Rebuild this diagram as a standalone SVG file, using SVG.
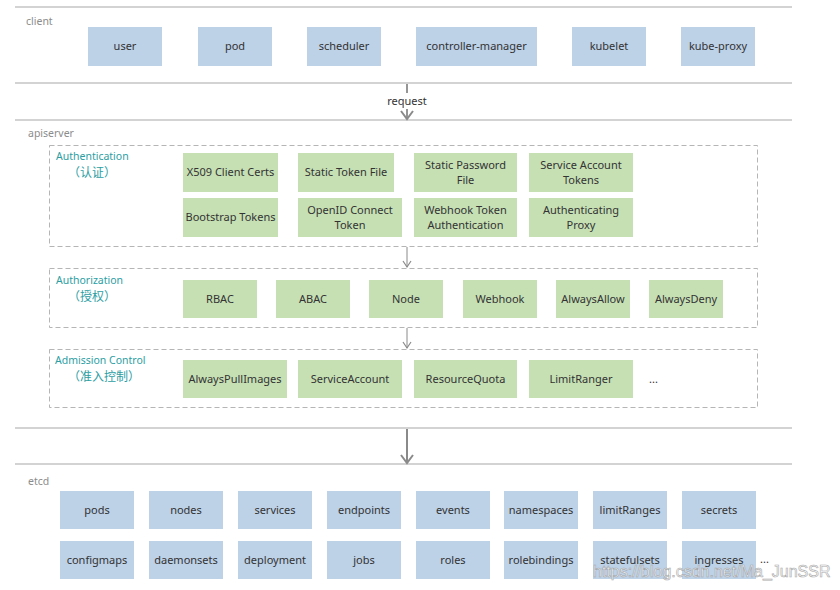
<svg xmlns="http://www.w3.org/2000/svg" width="840" height="590" viewBox="0 0 840 590">
<defs>
<style>
text{font-family:"Noto Sans","Liberation Sans","Noto Sans CJK SC",sans-serif;}
.blue{fill:#bdd1e7;}
.green{fill:#c6e0b4;}
.t{font-size:11px;fill:#333;text-anchor:middle;}
.sec{font-size:10.5px;fill:#8c8c8c;}
.lbl{font-size:10.5px;fill:#2c9ea3;}
.cn{font-size:12px;fill:#2c9ea3;font-family:"Noto Sans CJK SC",sans-serif;}
.band{stroke:#c4c4c4;stroke-width:1.6;fill:none;}
.dash{stroke:#b5b5b5;stroke-width:1;stroke-dasharray:5,3;fill:none;}
.conn{stroke:#8a8a8a;fill:none;}
</style>
<marker id="v" markerWidth="10" markerHeight="10" refX="8" refY="5" orient="auto" markerUnits="userSpaceOnUse" viewBox="0 0 10 10">
<path d="M2,1 L8,5 L2,9" fill="none" stroke="#8a8a8a" stroke-width="1.2"/>
</marker>
<marker id="vb" markerWidth="12" markerHeight="14" refX="10" refY="7" orient="auto" markerUnits="userSpaceOnUse" viewBox="0 0 12 14">
<path d="M2,1 L10,7 L2,13" fill="none" stroke="#8a8a8a" stroke-width="2"/>
</marker>
</defs>
<rect width="840" height="590" fill="#fff"/>

<g id="bands">
<line class="band" x1="15" y1="7" x2="792" y2="7"/>
<line class="band" x1="15" y1="83" x2="792" y2="83"/>
<line class="band" x1="15" y1="120" x2="792" y2="120"/>
<line class="band" x1="15" y1="428" x2="792" y2="428"/>
<line class="band" x1="15" y1="464" x2="792" y2="464"/>
<text class="sec" x="26" y="25">client</text>
<text class="sec" x="28" y="137">apiserver</text>
<text class="sec" x="28" y="485">etcd</text>
</g>

<g id="client">
<g id="n-user"><rect class="blue" x="88" y="27" width="74" height="39"/><text class="t" x="125" y="50">user</text></g>
<g id="n-pod"><rect class="blue" x="198" y="27" width="74" height="39"/><text class="t" x="235" y="50">pod</text></g>
<g id="n-scheduler"><rect class="blue" x="307" y="27" width="74" height="39"/><text class="t" x="344" y="50">scheduler</text></g>
<g id="n-cm"><rect class="blue" x="416" y="27" width="121" height="39"/><text class="t" x="476.5" y="50">controller-manager</text></g>
<g id="n-kubelet"><rect class="blue" x="572" y="27" width="74" height="39"/><text class="t" x="609" y="50">kubelet</text></g>
<g id="n-kubeproxy"><rect class="blue" x="681" y="27" width="74" height="39"/><text class="t" x="718" y="50">kube-proxy</text></g>
</g>

<g id="authn">
<rect class="dash" x="49.5" y="145.5" width="708" height="101"/>
<text class="lbl" x="56" y="160">Authentication</text>
<text class="cn" x="68" y="177">（认证）</text>
<g id="n-x509"><rect class="green" x="183" y="153" width="95" height="39"/><text class="t" x="230.5" y="176">X509 Client Certs</text></g>
<g id="n-stf"><rect class="green" x="298" y="153" width="96" height="39"/><text class="t" x="346" y="176">Static Token File</text></g>
<g id="n-spf"><rect class="green" x="414" y="153" width="103" height="39"/><text class="t" x="465.5" y="169">Static Password</text><text class="t" x="465.5" y="184">File</text></g>
<g id="n-sat"><rect class="green" x="529" y="153" width="104" height="39"/><text class="t" x="581" y="169">Service Account</text><text class="t" x="581" y="184">Tokens</text></g>
<g id="n-bt"><rect class="green" x="183" y="198" width="95" height="39"/><text class="t" x="230.5" y="221">Bootstrap Tokens</text></g>
<g id="n-oidc"><rect class="green" x="298" y="198" width="104" height="39"/><text class="t" x="350" y="214">OpenID Connect</text><text class="t" x="350" y="229">Token</text></g>
<g id="n-wta"><rect class="green" x="414" y="198" width="103" height="39"/><text class="t" x="465.5" y="214">Webhook Token</text><text class="t" x="465.5" y="229">Authentication</text></g>
<g id="n-ap"><rect class="green" x="529" y="198" width="104" height="39"/><text class="t" x="581" y="214">Authenticating</text><text class="t" x="581" y="229">Proxy</text></g>
</g>

<g id="authz">
<rect class="dash" x="49.5" y="268.5" width="708" height="59"/>
<text class="lbl" x="56" y="284">Authorization</text>
<text class="cn" x="68" y="301">（授权）</text>
<g id="n-rbac"><rect class="green" x="183" y="280" width="74" height="38"/><text class="t" x="220" y="303">RBAC</text></g>
<g id="n-abac"><rect class="green" x="276" y="280" width="74" height="38"/><text class="t" x="313" y="303">ABAC</text></g>
<g id="n-node"><rect class="green" x="369" y="280" width="74" height="38"/><text class="t" x="406" y="303">Node</text></g>
<g id="n-webhook"><rect class="green" x="463" y="280" width="74" height="38"/><text class="t" x="500" y="303">Webhook</text></g>
<g id="n-allow"><rect class="green" x="556" y="280" width="74" height="38"/><text class="t" x="593" y="303">AlwaysAllow</text></g>
<g id="n-deny"><rect class="green" x="649" y="280" width="74" height="38"/><text class="t" x="686" y="303">AlwaysDeny</text></g>
</g>

<g id="admission">
<rect class="dash" x="49.5" y="349.5" width="708" height="58"/>
<text class="lbl" x="55" y="364">Admission Control</text>
<text class="cn" x="68" y="381">（准入控制）</text>
<g id="n-api"><rect class="green" x="183" y="360" width="104" height="38"/><text class="t" x="235" y="383">AlwaysPullImages</text></g>
<g id="n-sa"><rect class="green" x="298" y="360" width="104" height="38"/><text class="t" x="350" y="383">ServiceAccount</text></g>
<g id="n-rq"><rect class="green" x="414" y="360" width="103" height="38"/><text class="t" x="465.5" y="383">ResourceQuota</text></g>
<g id="n-lr"><rect class="green" x="529" y="360" width="104" height="38"/><text class="t" x="581" y="383">LimitRanger</text></g>
<text class="t" x="649" y="383" style="text-anchor:start">...</text>
</g>

<g id="etcd">
<g id="n-pods"><rect class="blue" x="60" y="491" width="74" height="38"/><text class="t" x="97" y="514">pods</text></g>
<g id="n-nodes"><rect class="blue" x="149" y="491" width="74" height="38"/><text class="t" x="186" y="514">nodes</text></g>
<g id="n-services"><rect class="blue" x="238" y="491" width="74" height="38"/><text class="t" x="275" y="514">services</text></g>
<g id="n-endpoints"><rect class="blue" x="327" y="491" width="74" height="38"/><text class="t" x="364" y="514">endpoints</text></g>
<g id="n-events"><rect class="blue" x="416" y="491" width="74" height="38"/><text class="t" x="453" y="514">events</text></g>
<g id="n-namespaces"><rect class="blue" x="504" y="491" width="74" height="38"/><text class="t" x="541" y="514">namespaces</text></g>
<g id="n-limitranges"><rect class="blue" x="593" y="491" width="74" height="38"/><text class="t" x="630" y="514">limitRanges</text></g>
<g id="n-secrets"><rect class="blue" x="682" y="491" width="74" height="38"/><text class="t" x="719" y="514">secrets</text></g>
<g id="n-configmaps"><rect class="blue" x="60" y="541" width="74" height="38"/><text class="t" x="97" y="564">configmaps</text></g>
<g id="n-daemonsets"><rect class="blue" x="149" y="541" width="74" height="38"/><text class="t" x="186" y="564">daemonsets</text></g>
<g id="n-deployment"><rect class="blue" x="238" y="541" width="74" height="38"/><text class="t" x="275" y="564">deployment</text></g>
<g id="n-jobs"><rect class="blue" x="327" y="541" width="74" height="38"/><text class="t" x="364" y="564">jobs</text></g>
<g id="n-roles"><rect class="blue" x="416" y="541" width="74" height="38"/><text class="t" x="453" y="564">roles</text></g>
<g id="n-rolebindings"><rect class="blue" x="504" y="541" width="74" height="38"/><text class="t" x="541" y="564">rolebindings</text></g>
<g id="n-statefulsets"><rect class="blue" x="593" y="541" width="74" height="38"/><text class="t" x="630" y="564">statefulsets</text></g>
<g id="n-ingresses"><rect class="blue" x="682" y="541" width="74" height="38"/><text class="t" x="719" y="564">ingresses</text></g>
<text class="t" x="760" y="563" style="text-anchor:start">...</text>
</g>

<g id="connectors">
<line class="conn" x1="407" y1="84" x2="407" y2="93" stroke-width="1.8"/>
<text class="t" x="407" y="105">request</text>
<line class="conn" x1="407" y1="109" x2="407" y2="119" stroke-width="1.8" marker-end="url(#vb)"/>
<line class="conn" x1="407" y1="247" x2="407" y2="267" stroke-width="1" marker-end="url(#v)"/>
<line class="conn" x1="407" y1="328" x2="407" y2="348" stroke-width="1" marker-end="url(#v)"/>
<line class="conn" x1="407" y1="429" x2="407" y2="463" stroke-width="2" marker-end="url(#vb)"/>
</g>

<text x="593" y="577" style="font-family:'Liberation Sans',sans-serif;font-size:16px;fill:#ffffff;stroke:#9a9a9a;stroke-width:0.6;opacity:0.85">https://blog.csdn.net/Ma_JunSSR</text>
</svg>
